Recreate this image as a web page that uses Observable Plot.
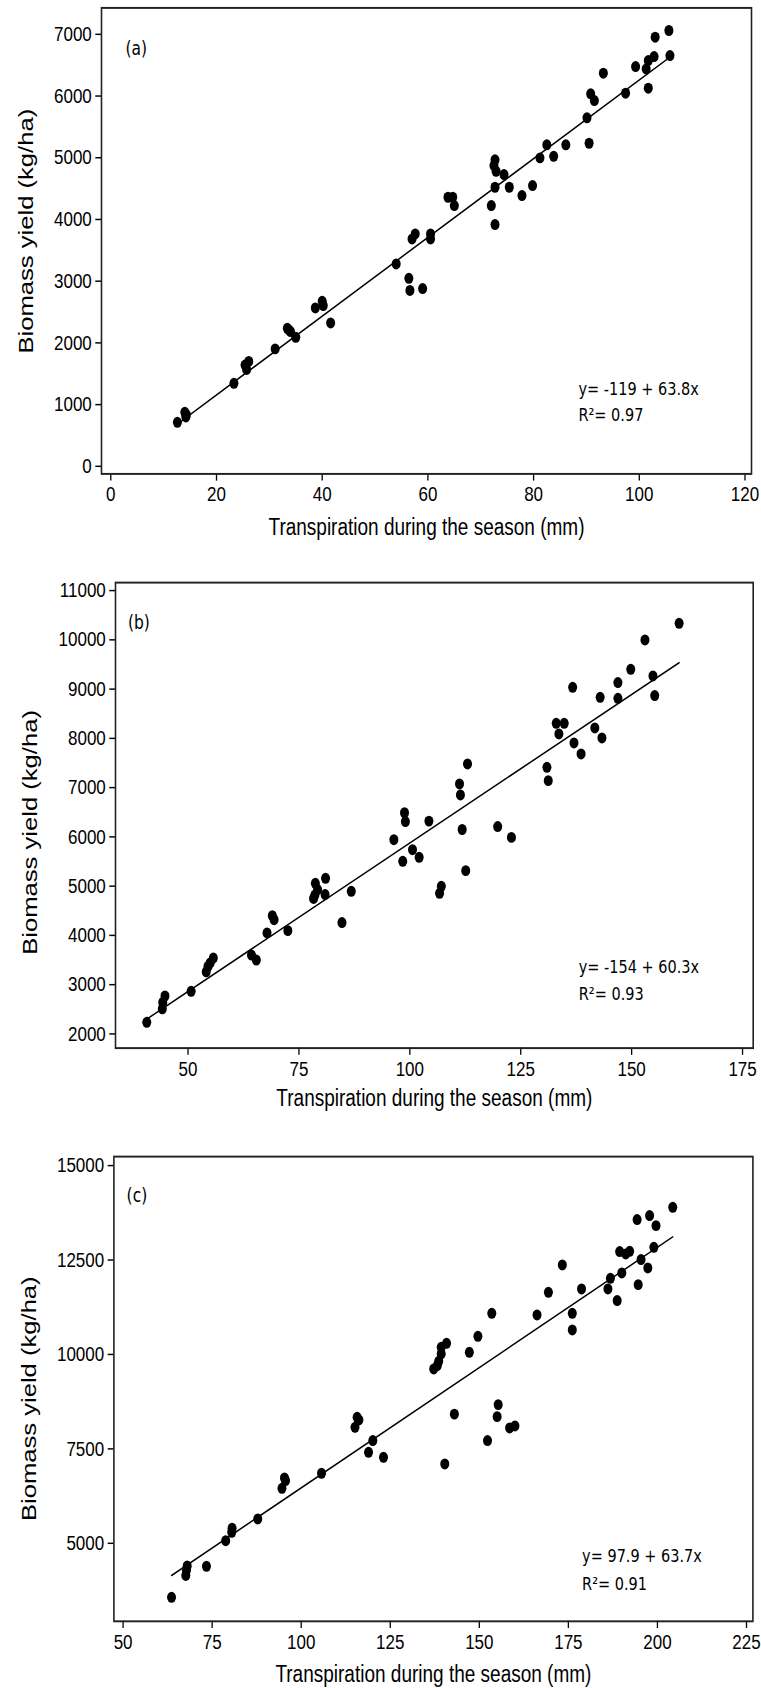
<!DOCTYPE html>
<html>
<head>
<meta charset="utf-8">
<script src="https://cdn.jsdelivr.net/npm/d3@7"></script>
<script src="https://cdn.jsdelivr.net/npm/@observablehq/plot@0.6"></script>
<style>
  html, body { margin: 0; padding: 0; background: #fff; }
  #chart svg { display: block; }
</style>
</head>
<body>
<div id="chart"></div>
<script>
// ---------- data ----------
const panelTags = ["(a)", "(b)", "(c)"];
const xLabel = "Transpiration during the season (mm)";
const yLabel = "Biomass yield (kg/ha)";

// panel (a)
const aTranspiration = [12.6,14.0,14.3,14.2,23.3,25.4,25.7,26.1,31.1,33.4,33.7,34.0,35.0,38.7,40.0,40.2,41.6,54.0,56.4,56.6,59.0,57.0,57.6,60.5,60.5,63.8,64.7,65.0,72.0,72.7,72.7,72.5,72.9,74.4,72.7,75.4,77.8,79.8,81.2,82.5,83.8,86.1,90.1,90.5,90.8,91.5,93.2,97.4,99.3,101.7,101.3,101.7,102.8,103.0,105.6,105.8];
const aBiomass = [713,875,838,800,1345,1640,1570,1700,1903,2237,2211,2183,2091,2567,2674,2604,2324,3280,3047,2850,2880,3685,3766,3766,3685,4360,4360,4225,4225,3917,4966,4873,4781,4728,4522,4522,4387,4549,4998,5209,5024,5209,5647,5235,6036,5927,6370,6047,6478,6127,6440,6575,6640,6953,7062,6656];
const aXTicks = [0,20,40,60,80,100,120];
const aYTicks = [0,1000,2000,3000,4000,5000,6000,7000];
const aIntercept = -119, aSlope = 63.8;
const aEquation = "y= -119 + 63.8x", aR2 = "R²= 0.97";

// panel (b)
const bTranspiration = [40.7,44.2,44.3,44.8,50.7,54.1,54.5,55.0,55.7,64.3,65.4,67.8,69.0,69.4,72.5,78.3,78.6,78.7,79.2,80.9,81.0,84.7,86.8,96.4,98.4,98.8,99.0,100.6,102.1,104.3,106.7,107.1,111.2,111.4,111.8,112.6,113.0,119.8,122.9,130.9,131.2,133.0,133.6,134.8,136.7,137.0,138.6,141.7,142.9,143.3,146.9,146.9,149.8,153.0,154.8,155.2,160.7];
const bBiomass = [2235,2510,2640,2770,2865,3260,3370,3440,3540,3600,3500,4050,4400,4320,4097,4750,4820,5057,4930,4830,5159,4260,4895,5944,5504,6490,6310,5741,5585,6320,4855,4997,7075,6852,6150,5315,7481,6210,5990,7412,7142,8305,8090,8305,9036,7907,7684,8212,8833,8009,9132,8813,9402,9998,9268,8868,10336];
const bXTicks = [50,75,100,125,150,175];
const bYTicks = [2000,3000,4000,5000,6000,7000,8000,9000,10000,11000];
const bIntercept = -154, bSlope = 60.3;
const bEquation = "y= -154 + 60.3x", bR2 = "R²= 0.93";

// panel (c)
const cTranspiration = [63.6,67.6,67.8,68.0,73.4,78.8,80.5,80.6,87.8,94.6,95.3,95.6,105.7,115.1,115.7,116.2,118.9,120.1,123.1,137.2,138.2,138.6,139.3,139.3,140.3,140.8,143.0,147.2,149.6,152.3,153.5,155.0,155.3,158.5,160.0,166.2,169.4,173.3,176.1,176.1,178.7,186.1,186.8,188.7,189.4,190.0,191.1,192.2,194.3,194.6,195.4,197.3,197.8,199.0,199.6,204.3];
const cBiomass = [3570,4150,4290,4400,4390,5070,5290,5400,5645,6456,6731,6660,6853,8071,8336,8267,7410,7719,7277,9617,9705,9819,10014,10189,7102,10295,8420,10057,10481,7719,11089,8354,8672,8055,8108,11047,11645,12371,11089,10650,11735,11735,12016,11426,12723,12159,12662,12731,13570,11849,12511,12291,13676,12837,13411,13896];
const cXTicks = [50,75,100,125,150,175,200,225];
const cYTicks = [5000,7500,10000,12500,15000];
const cIntercept = 97.9, cSlope = 63.7;
const cEquation = "y= 97.9 + 63.7x", cR2 = "R²= 0.91";

// ---------- layout ----------
// The reference figure is stretched vertically; draw at natural proportions, then stretch the SVG.
const S = 1.22;
const W = 761;

const panels = [
  { tag: panelTags[0], xs: aTranspiration, ys: aBiomass, xt: aXTicks, yt: aYTicks, a: aIntercept, b: aSlope, eq: aEquation, r2: aR2,
    h: 548, mt: 7.3, mb: 74.7, ml: 101, mr: 10, xd: [-1.76, 121.23], yd: [-123, 7428],
    tagDx: 24, tagDy: 33.6, eqDx: -173, eqDy: -69.3, r2Dy: -48.2, xlDy: 43.8, ylDx: -75, ylDy: -8 },
  { tag: panelTags[1], xs: bTranspiration, ys: bBiomass, xt: bXTicks, yt: bYTicks, a: bIntercept, b: bSlope, eq: bEquation, r2: bR2,
    h: 570, mt: 34, mb: 70.5, ml: 115, mr: 8.3, xd: [33.65, 177.4], yd: [1712, 11162],
    tagDx: 12.4, tagDy: 33.2, eqDx: -174.4, eqDy: -66.6, r2Dy: -44.3, xlDy: 41.6, ylDx: -85, ylDy: 14 },
  { tag: panelTags[2], xs: cTranspiration, ys: cBiomass, xt: cXTicks, yt: cYTicks, a: cIntercept, b: cSlope, eq: cEquation, r2: cR2,
    h: 570, mt: 38, mb: 67.3, ml: 113.4, mr: 8.6, xd: [47.42, 226.8], yd: [2935, 15238],
    tagDx: 12.7, tagDy: 32.6, eqDx: -170.8, eqDy: -53.6, r2Dy: -30.3, xlDy: 43.7, ylDx: -84.7, ylDy: 8 }
];

const tickFont = "'Liberation Sans', Arial, sans-serif";
const noteFont = "'DejaVu Sans', Verdana, sans-serif";

const chart = document.getElementById("chart");

for (const p of panels) {
  const data = p.xs.map((x, i) => ({x, y: p.ys[i]}));
  const [x0, x1] = d3.extent(p.xs);
  const fit = [x0, x1].map(x => ({x, y: p.a + p.b * x}));
  const H = p.h / S;

  const svg = Plot.plot({
    width: W,
    height: H,
    marginTop: p.mt / S,
    marginBottom: p.mb / S,
    marginLeft: p.ml,
    marginRight: p.mr,
    style: { fontFamily: tickFont, fontSize: "17px", color: "#000", background: "#fff" },
    x: { domain: p.xd },
    y: { domain: p.yd },
    marks: [
      Plot.axisX({ ticks: p.xt, tickSize: 6, tickPadding: 4.5, label: null, tickFormat: d => String(d), strokeWidth: 1.3 }),
      Plot.axisY({ ticks: p.yt, tickSize: 5.7, tickPadding: 4, label: null, tickFormat: d => String(d), strokeWidth: 1.2 }),
      Plot.line(fit, { x: "x", y: "y", stroke: "#000", strokeWidth: 1.3 }),
      Plot.dot(data, { x: "x", y: "y", r: 4.5, fill: "#000", stroke: "none" }),
      Plot.frame({ stroke: "#222", strokeWidth: 1.6 }),
      Plot.text([p.tag], { text: d => d, frameAnchor: "top-left", textAnchor: "start", lineAnchor: "middle",
        dx: p.tagDx, dy: p.tagDy, fontFamily: noteFont, fontSize: 15.5, fill: "#000" }),
      Plot.text([p.eq], { text: d => d, frameAnchor: "bottom-right", textAnchor: "start", lineAnchor: "middle",
        dx: p.eqDx, dy: p.eqDy, fontFamily: noteFont, fontSize: 14.5, fill: "#000" }),
      Plot.text([p.r2], { text: d => d, frameAnchor: "bottom-right", textAnchor: "start", lineAnchor: "middle",
        dx: p.eqDx, dy: p.r2Dy, fontFamily: noteFont, fontSize: 14.5, fill: "#000" }),
      Plot.text([xLabel], { text: d => d, frameAnchor: "bottom", lineAnchor: "middle",
        dy: p.xlDy, fontSize: 19, fill: "#000" }),
      Plot.text([yLabel], { text: d => d, frameAnchor: "left", textAnchor: "middle", rotate: -90, lineAnchor: "middle",
        dx: p.ylDx, dy: p.ylDy, fontSize: 21, fill: "#000" })
    ]
  });

  // stretch vertically like the reference
  svg.setAttribute("viewBox", `0 0 ${W} ${H}`);
  svg.setAttribute("preserveAspectRatio", "none");
  svg.setAttribute("width", W);
  svg.setAttribute("height", p.h);
  svg.style.width = W + "px";
  svg.style.height = p.h + "px";
  svg.style.maxWidth = "none";
  chart.appendChild(svg);
}
</script>
</body>
</html>
